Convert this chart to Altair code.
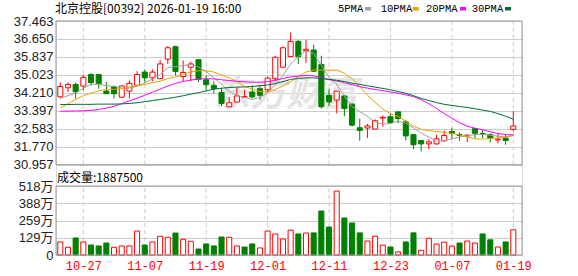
import altair as alt
import pandas as pd

# ---------------- data ----------------
opens = [34.03,34.44,34.59,34.52,35.04,35.04,34.29,34.49,34.01,34.29,
         34.55,35.15,34.89,34.85,35.74,36.30,34.95,35.37,35.71,34.80,
         34.55,34.23,33.58,33.79,34.01,34.25,34.40,34.35,34.85,35.37,
         35.85,36.54,36.12,36.15,35.49,34.10,33.88,34.07,33.70,32.63,
         32.62,32.57,33.07,33.13,33.35,32.90,32.32,32.05,31.90,31.90,
         32.04,32.46,32.32,32.26,32.59,32.37,32.31,32.08,32.16,32.56]
highs = [34.68,34.68,34.68,35.03,35.10,35.04,34.70,34.55,34.55,34.77,
         35.19,35.27,35.27,35.70,36.33,36.34,35.67,35.62,35.71,35.00,
         34.73,34.44,34.03,34.44,34.35,34.55,34.55,34.95,35.89,36.30,
         36.94,36.60,36.61,36.39,35.89,34.40,34.29,34.10,33.73,33.04,
         32.80,33.01,33.19,33.28,33.35,32.98,32.32,32.05,32.11,32.31,
         32.50,32.63,32.41,32.35,32.59,32.53,32.38,32.38,32.31,33.38]
lows = [33.95,34.25,33.95,34.32,34.55,34.40,34.17,33.95,34.01,33.95,
        34.55,34.67,34.73,34.85,35.52,35.00,34.73,34.73,34.70,34.32,
        34.17,33.61,33.58,33.79,34.00,33.95,33.91,34.20,34.73,35.37,
        35.85,35.52,35.56,35.15,33.50,33.61,33.28,33.16,32.68,32.04,
        32.16,32.57,32.68,32.80,32.83,32.05,31.66,31.56,31.66,31.86,
        32.01,32.11,32.04,31.98,32.16,32.16,31.96,31.93,31.86,32.46]
closes = [34.50,34.59,34.26,34.91,34.67,34.62,34.17,34.17,34.52,34.64,
          35.04,34.89,35.15,35.52,36.25,35.18,35.13,35.52,34.83,34.58,
          34.40,33.73,33.76,34.07,34.04,34.03,34.10,34.88,35.82,36.25,
          36.54,35.85,36.18,35.19,33.58,33.80,34.29,33.50,32.75,32.51,
          32.71,32.95,33.10,32.86,33.05,32.26,31.86,31.90,31.99,32.13,
          32.28,32.37,32.28,32.29,32.38,32.34,32.16,32.11,32.05,32.71]
vols = [98,58,128,98,75,68,90,58,68,68,
        180,75,98,140,133,165,118,103,45,83,
        68,135,133,68,60,83,53,180,158,120,
        186,158,165,166,330,210,480,278,240,166,
        105,141,74,60,23,98,166,35,126,82,
        96,67,90,105,90,158,114,60,98,188.75]
vol_up = [1,1,0,1,0,0,0,1,1,1, 1,0,1,1,1,0,1,1,0,0,
          0,0,1,1,0,0,1,1,1,1, 1,0,1,0,0,0,1,0,0,0,
          1,1,1,0,1,0,0,1,1,1, 1,1,0,1,1,0,0,1,0,1]
ma5 = [33.98,34.08,34.20,34.42,34.58,34.61,34.53,34.50,34.43,34.42,
       34.51,34.65,34.84,35.04,35.36,35.40,35.44,35.52,35.38,35.17,
       34.89,34.61,34.26,34.10,34.00,33.92,33.99,34.22,34.57,35.01,
       35.51,35.86,36.12,36.00,35.46,34.92,34.60,34.07,33.58,33.37,
       33.15,32.88,32.80,32.82,32.93,32.84,32.62,32.39,32.21,32.03,
       32.03,32.13,32.21,32.27,32.32,32.33,32.29,32.25,32.21,32.27]
ma10 = [33.53,33.72,33.91,34.08,34.20,34.30,34.35,34.37,34.40,34.47,
        34.54,34.59,34.67,34.73,34.86,34.93,35.04,35.16,35.21,35.21,
        35.15,35.03,34.89,34.72,34.50,34.38,34.27,34.25,34.36,34.52,
        34.71,34.95,35.15,35.25,35.24,35.23,35.24,35.10,34.85,34.50,
        34.10,33.78,33.48,33.26,33.14,32.93,32.70,32.56,32.50,32.46,
        32.43,32.38,32.30,32.22,32.12,32.12,32.14,32.18,32.22,32.29]
ma20 = [33.38,33.38,33.39,33.40,33.42,33.46,33.52,33.60,33.72,33.85,
        33.97,34.10,34.24,34.38,34.52,34.64,34.73,34.79,34.83,34.85,
        34.84,34.80,34.77,34.73,34.71,34.69,34.69,34.72,34.78,34.86,
        34.93,34.97,35.00,34.98,34.89,34.81,34.75,34.67,34.58,34.49,
        34.42,34.36,34.31,34.25,34.19,34.12,34.04,33.90,33.72,33.50,
        33.27,33.06,32.86,32.70,32.61,32.54,32.45,32.37,32.32,32.31]
ma30 = [33.68,33.68,33.69,33.69,33.69,33.70,33.70,33.70,33.71,33.73,
        33.76,33.81,33.86,33.91,33.96,34.01,34.08,34.15,34.22,34.30,
        34.38,34.42,34.45,34.47,34.48,34.50,34.53,34.57,34.63,34.72,
        34.82,34.86,34.89,34.89,34.86,34.82,34.78,34.72,34.65,34.59,
        34.53,34.47,34.41,34.35,34.27,34.19,34.08,33.96,33.86,33.77,
        33.69,33.64,33.59,33.55,33.49,33.43,33.37,33.27,33.15,33.02]
tick_idx = [3, 11, 19, 27, 35, 43, 51, 59]
tick_labels = ["10-27", "11-07", "11-19", "12-01", "12-11", "12-23", "01-07", "01-19"]
price_ticks = [30.957, 31.770, 32.583, 33.397, 34.210, 35.023, 35.837, 36.650, 37.463]
vol_ticks = [0, 129.5, 259, 388.5, 518]
ma_names = ["5PMA", "10PMA", "20PMA", "30PMA"]
ma_colors = ["#a0a0a0", "#f0a000", "#ff00ff", "#006e32"]
title_text = "北京控股[00392] 2026-01-19 16:00"
vol_text = "成交量:1887500"
watermark = "东方财富"

# ---------------- layout ----------------
W, H = 466, 234
PRICE_H, VOL_H = 143.7, 69.0
STEP = 7.678
P_MIN, P_MAX = price_ticks[0], price_ticks[-1]
p_lo = P_MAX - H * (P_MAX - P_MIN) / PRICE_H
V_MAX = vol_ticks[-1]
v_hi = V_MAX * H / VOL_H
X_LO = -0.56
X_HI = X_LO + W / STEP
HALF = 0.33

FONT = "Liberation Sans, Noto Sans CJK SC"
CJK = "Noto Sans CJK SC"

xs = alt.Scale(domain=[X_LO, X_HI], nice=False, zero=False)
yp = alt.Scale(domain=[p_lo, P_MAX], nice=False, zero=False)
yv = alt.Scale(domain=[0, v_hi], nice=False, zero=False)

n = len(closes)
df = pd.DataFrame({"i": list(range(n)), "open": opens, "high": highs, "low": lows,
                   "close": closes, "vol": vols, "vup": vol_up})
ma_df = pd.DataFrame([{"i": k, "v": v, "s": name}
                      for name, arr in zip(ma_names, [ma5, ma10, ma20, ma30])
                      for k, v in enumerate(arr)])
tick_df = pd.DataFrame({"i": tick_idx})
one = pd.DataFrame({"a": [0]})

dir_fill = alt.Scale(domain=["up", "down"], range=["#ffffff", "#008000"])
dir_stroke = alt.Scale(domain=["up", "down"], range=["#ff0000", "#008000"])

label_expr = "[" + ",".join("'%s'" % l for l in tick_labels) + "][indexof([" + \
    ",".join(str(t) for t in tick_idx) + "], datum.value)]"

x_axis = alt.Axis(values=tick_idx, labelExpr=label_expr, grid=False, ticks=False,
                  domain=False, labelColor="#ff0000", labelFont="Liberation Mono",
                  labelFontSize=12, labelPadding=5, labelFlush=False,
                  labelOverlap=False, title=None, orient="bottom")

base = alt.Chart(df).transform_calculate(
    x0=f"datum.i - {HALF}", x1=f"datum.i + {HALF}",
    dir="datum.close >= datum.open ? 'up' : 'down'",
    vdir="datum.vup == 1 ? 'up' : 'down'")

# ----- price panel -----
p_vrules = alt.Chart(tick_df).transform_calculate(lo=str(P_MIN), hi=str(P_MAX)).mark_rule(
    color="#cccccc", strokeDash=[4, 3], strokeWidth=1).encode(
    x=alt.X("i:Q", scale=xs, axis=x_axis),
    y=alt.Y("lo:Q", scale=yp, axis=None), y2="hi:Q")

wm = alt.Chart(one).mark_text(text=watermark, font=CJK, fontSize=36, fontWeight="bold",
                              fontStyle="italic", color="#e4e4e4", align="center",
                              baseline="middle").encode(x=alt.value(230), y=alt.value(74))

wick = base.mark_rule(strokeWidth=1).encode(
    x=alt.X("i:Q", scale=xs, axis=None),
    y=alt.Y("low:Q", scale=yp, axis=alt.Axis(
        values=price_ticks, format=".3f", orient="left", grid=True, gridColor="#cccccc",
        ticks=False, domain=False, labelFont=FONT, labelFontSize=13, labelColor="#222222",
        labelPadding=3, labelOverlap=False, title=None)),
    y2="high:Q",
    stroke=alt.Stroke("dir:N", scale=dir_stroke, legend=None))

body = base.mark_rect(strokeWidth=1).encode(
    x=alt.X("x0:Q", scale=xs, axis=None), x2="x1:Q",
    y=alt.Y("open:Q", scale=yp, axis=None), y2="close:Q",
    fill=alt.Fill("dir:N", scale=dir_fill, legend=None),
    stroke=alt.Stroke("dir:N", scale=dir_stroke, legend=None))

lines = alt.Chart(ma_df).mark_line(strokeWidth=1).encode(
    x=alt.X("i:Q", scale=xs, axis=None),
    y=alt.Y("v:Q", scale=yp, axis=None),
    color=alt.Color("s:N", scale=alt.Scale(domain=ma_names, range=ma_colors), legend=None),
    order=alt.Order("i:Q"))

p_border = alt.Chart(one).transform_calculate(
    x0=str(X_LO), x1=str(X_HI), y0=str(P_MIN), y1=str(P_MAX)).mark_rect(
    fill="transparent", stroke="#999999", strokeWidth=1).encode(
    x=alt.X("x0:Q", scale=xs, axis=None), x2="x1:Q",
    y=alt.Y("y0:Q", scale=yp, axis=None), y2="y1:Q")

price = alt.layer(p_vrules, wm, wick, body, lines, p_border).resolve_axis(
    x="independent", y="independent")

# ----- volume panel -----
v_vrules = alt.Chart(tick_df).transform_calculate(lo="0", hi=str(V_MAX)).mark_rule(
    color="#cccccc", strokeDash=[4, 3], strokeWidth=1).encode(
    x=alt.X("i:Q", scale=xs, axis=None),
    y=alt.Y("lo:Q", scale=yv, axis=None), y2="hi:Q")

vbars = base.mark_rect(strokeWidth=1).encode(
    x=alt.X("x0:Q", scale=xs, axis=None), x2="x1:Q",
    y=alt.Y("vol:Q", scale=yv, axis=alt.Axis(
        values=vol_ticks, orient="left", grid=True, gridColor="#cccccc", ticks=False,
        domain=False, labelFont=FONT, labelFontSize=13, labelColor="#222222",
        labelPadding=3, labelOverlap=False, title=None,
        labelExpr="datum.value == 0 ? '0' : floor(datum.value) + '万'")),
    y2=alt.datum(0),
    fill=alt.Fill("vdir:N", scale=dir_fill, legend=None),
    stroke=alt.Stroke("vdir:N", scale=dir_stroke, legend=None))

v_border = alt.Chart(one).transform_calculate(
    x0=str(X_LO), x1=str(X_HI), y0="0", y1=str(V_MAX)).mark_rect(
    fill="transparent", stroke="#999999", strokeWidth=1).encode(
    x=alt.X("x0:Q", scale=xs, axis=None), x2="x1:Q",
    y=alt.Y("y0:Q", scale=yv, axis=None), y2="y1:Q")

volume = alt.layer(v_vrules, vbars, v_border).resolve_axis(
    x="independent", y="independent")

# ----- texts / legend -----
texts = [
    alt.Chart(one).mark_text(text=title_text, font=CJK, fontSize=12, color="#000000",
                             align="left", baseline="alphabetic").encode(
        x=alt.value(-1), y=alt.value(-8)),
    alt.Chart(one).mark_text(text=vol_text, font=CJK, fontSize=12, color="#000000",
                             align="left", baseline="alphabetic").encode(
        x=alt.value(1), y=alt.value(161)),
]
leg_text_x = [282, 324.7, 370, 415.7]
leg_sw_x = [309, 356.7, 404, 449]
for name, col, tx, sx in zip(ma_names, ma_colors, leg_text_x, leg_sw_x):
    texts.append(alt.Chart(one).mark_text(text=name, font="Liberation Mono", fontSize=10.5,
                                          color="#000000", align="left",
                                          baseline="alphabetic").encode(
        x=alt.value(tx), y=alt.value(-9)))
    texts.append(alt.Chart(one).mark_rect(color=col).encode(
        x=alt.value(sx), x2=alt.value(sx + 6), y=alt.value(-14), y2=alt.value(-10.5)))

chart = alt.layer(price, volume, *texts).resolve_scale(y="independent").resolve_axis(
    x="independent", y="independent").properties(
    width=W, height=H,
    autosize=alt.AutoSizeParams(type="none"),
    padding={"left": 56, "top": 21, "right": 56, "bottom": 21},
).configure_view(strokeWidth=0).configure(background="#ffffff")

chart.save("out.html", embed_options={"renderer": "svg", "actions": False})
